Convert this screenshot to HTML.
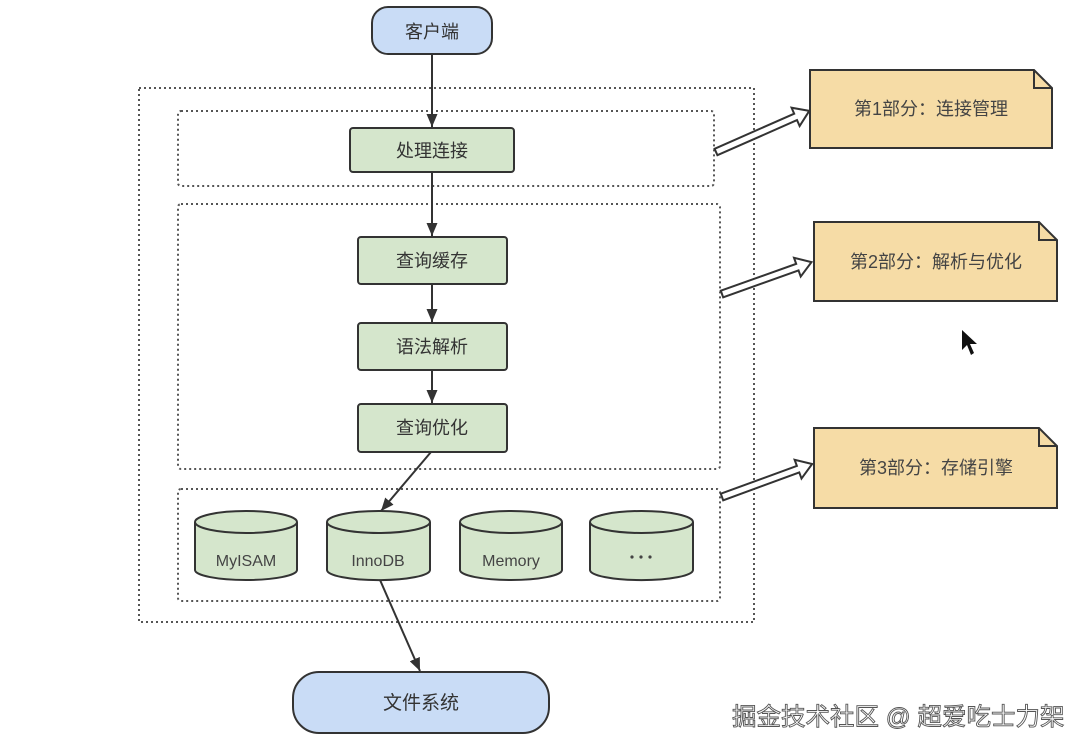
<!DOCTYPE html>
<html><head><meta charset="utf-8"><style>
html,body{margin:0;padding:0;background:#fff;}
svg text{font-family:"Liberation Sans","Noto Sans CJK SC",sans-serif;}
</style></head><body>
<svg width="1090" height="751" viewBox="0 0 1090 751" xmlns="http://www.w3.org/2000/svg">
<defs>
<marker id="ah" markerWidth="14" markerHeight="14" refX="13" refY="7" orient="auto" markerUnits="userSpaceOnUse">
<path d="M0,1.5 L13,7 L0,12.5 Z" fill="#333"/>
</marker>
</defs>
<g fill="none" stroke="#555" stroke-width="2" stroke-dasharray="2,3">
<rect x="139" y="88" width="615" height="534"/>
<rect x="178" y="111" width="536" height="75" rx="3"/>
<rect x="178" y="204" width="542" height="265" rx="3"/>
<rect x="178" y="489" width="542" height="112" rx="3"/>
</g>
<g stroke="#333" stroke-width="2" fill="none" marker-end="url(#ah)">
<line x1="432" y1="54" x2="432" y2="127"/>
<line x1="432" y1="172" x2="432" y2="236"/>
<line x1="432" y1="284" x2="432" y2="322"/>
<line x1="432" y1="370" x2="432" y2="403"/>
<line x1="431" y1="452" x2="381" y2="511"/>
<line x1="380" y1="580" x2="420" y2="671"/>
</g>
<rect x="372" y="7" width="120" height="47" rx="16" fill="#c9dcf6" stroke="#333" stroke-width="2"/>
<text x="432" y="38" font-size="18" fill="#333" text-anchor="middle">客户端</text>
<g fill="#d5e6cc" stroke="#333" stroke-width="2">
<rect x="350" y="128" width="164" height="44" rx="3"/>
<rect x="358" y="237" width="149" height="47" rx="3"/>
<rect x="358" y="323" width="149" height="47" rx="3"/>
<rect x="358" y="404" width="149" height="48" rx="3"/>
</g>
<g font-size="18" fill="#333" text-anchor="middle">
<text x="432" y="157">处理连接</text>
<text x="432" y="267">查询缓存</text>
<text x="432" y="353">语法解析</text>
<text x="432" y="434">查询优化</text>
</g>
<g fill="#d5e6cc" stroke="#333" stroke-width="2">
<path d="M195,522 L195,570 A51,10 0 0 0 297,570 L297,522"/><ellipse cx="246" cy="522" rx="51" ry="11"/>
<path d="M327,522 L327,570 A51,10 0 0 0 430,570 L430,522"/><ellipse cx="378.5" cy="522" rx="51.5" ry="11"/>
<path d="M460,522 L460,570 A51,10 0 0 0 562,570 L562,522"/><ellipse cx="511" cy="522" rx="51" ry="11"/>
<path d="M590,522 L590,570 A51,10 0 0 0 693,570 L693,522"/><ellipse cx="641.5" cy="522" rx="51.5" ry="11"/>
</g>
<g font-size="16" fill="#444" text-anchor="middle">
<text x="246" y="566">MyISAM</text>
<text x="378" y="566">InnoDB</text>
<text x="511" y="566">Memory</text>
</g>
<g fill="#444"><circle cx="632" cy="557" r="1.6"/><circle cx="641" cy="557" r="1.6"/><circle cx="650" cy="557" r="1.6"/></g>
<rect x="293" y="672" width="256" height="61" rx="26" fill="#c9dcf6" stroke="#333" stroke-width="2"/>
<text x="421" y="709" font-size="19" fill="#333" text-anchor="middle">文件系统</text>
<g fill="#f6dca6" stroke="#333" stroke-width="2">
<path d="M810,70 L1034,70 L1052,88 L1052,148 L810,148 Z"/>
<path d="M814,222 L1039,222 L1057,240 L1057,301 L814,301 Z"/>
<path d="M814,428 L1039,428 L1057,446 L1057,508 L814,508 Z"/>
</g>
<g fill="none" stroke="#333" stroke-width="2">
<path d="M1034,70 L1034,88 L1052,88"/>
<path d="M1039,222 L1039,240 L1057,240"/>
<path d="M1039,428 L1039,446 L1057,446"/>
</g>
<g font-size="18" fill="#444" text-anchor="middle">
<text x="931" y="115">第1部分：连接管理</text>
<text x="936" y="268">第2部分：解析与优化</text>
<text x="936" y="474">第3部分：存储引擎</text>
</g>
<g fill="#fff" stroke="#333" stroke-width="2">
<polygon transform="translate(716,152) rotate(-23.8)" points="0,-3.5 87,-3.5 87,-10 102,0 87,10 87,3.5 0,3.5"/>
<polygon transform="translate(722,294) rotate(-19.6)" points="0,-3.5 80,-3.5 80,-10 95,0 80,10 80,3.5 0,3.5"/>
<polygon transform="translate(722,497) rotate(-20.1)" points="0,-3.5 81,-3.5 81,-10 96,0 81,10 81,3.5 0,3.5"/>
</g>
<path d="M962,330 L962,350 L967,345 L971,355 L974,353 L970,344 L977,344 Z" fill="#111"/>
<text x="732" y="725" font-size="24.5" fill="#fff" stroke="#555" stroke-width="0.9">掘金技术社区 @ 超爱吃士力架</text>
</svg>
</body></html>
